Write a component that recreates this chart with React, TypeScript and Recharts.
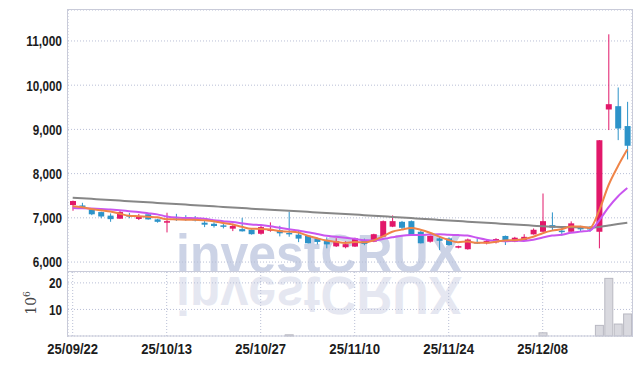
import React from "react";
import { ComposedChart, BarChart, Bar, Line, XAxis, YAxis, CartesianGrid } from "recharts";

const dates = [
  "25/09/22", "25/09/23", "25/09/24", "25/09/25", "25/09/26", "25/09/29", "25/09/30", "25/10/01", "25/10/02", "25/10/10",
  "25/10/13", "25/10/14", "25/10/15", "25/10/16", "25/10/17", "25/10/20", "25/10/21", "25/10/22", "25/10/23", "25/10/24",
  "25/10/27", "25/10/28", "25/10/29", "25/10/30", "25/10/31", "25/11/03", "25/11/04", "25/11/05", "25/11/06", "25/11/07",
  "25/11/10", "25/11/11", "25/11/12", "25/11/13", "25/11/14", "25/11/17", "25/11/18", "25/11/19", "25/11/20", "25/11/21",
  "25/11/24", "25/11/25", "25/11/26", "25/11/27", "25/11/28", "25/12/01", "25/12/02", "25/12/03", "25/12/04", "25/12/05",
  "25/12/08", "25/12/09", "25/12/10", "25/12/11", "25/12/12", "25/12/15", "25/12/16", "25/12/17", "25/12/18", "25/12/19",
];
const tickDates = ["25/09/22", "25/10/13", "25/10/27", "25/11/10", "25/11/24", "25/12/08"];

const opens = [
  7290, 7280, 7190, 7130, 7050, 6980, 7060, 6975, 7080, 6965,
  6890, 7020, 7000, 6975, 6890, 6865, 6830, 6755, 6745, 6730,
  6640, 6720, 6720, 6660, 6620, 6595, 6535, 6475, 6355, 6335,
  6350, 6495, 6460, 6575, 6800, 6910, 6925, 6685, 6460, 6535,
  6535, 6325, 6290, 6450, 6425, 6445, 6590, 6460, 6500, 6626,
  6685, 6835, 6710, 6685, 6800, 6770, 6685, 9450, 9525, 9075,
];
const highs = [
  7390, 7340, 7200, 7140, 7100, 7170, 7110, 7090, 7080, 6980,
  7115, 7090, 7060, 7040, 6950, 6900, 6870, 6870, 7000, 6740,
  6845, 6897, 6820, 7137, 6700, 6600, 6550, 6560, 6540, 6470,
  6550, 6530, 6640, 6940, 7055, 6930, 6940, 6700, 6600, 6570,
  6560, 6370, 6530, 6520, 6510, 6540, 6600, 6570, 6630, 6760,
  7550, 7123, 6784, 6920, 6820, 6810, 8760, 11150, 9948, 9623,
];
const lows = [
  7160, 7210, 7060, 6990, 6910, 6980, 6990, 6950, 6960, 6890,
  6670, 6930, 6930, 6920, 6790, 6780, 6760, 6700, 6690, 6620,
  6620, 6685, 6580, 6572, 6450, 6420, 6400, 6310, 6340, 6310,
  6340, 6380, 6450, 6570, 6790, 6740, 6600, 6420, 6440, 6270,
  6370, 6310, 6280, 6410, 6400, 6420, 6385, 6450, 6490, 6620,
  6680, 6723, 6595, 6680, 6700, 6680, 6310, 8985, 8757, 8321,
];
const closes = [
  7380, 7260, 7080, 7030, 6970, 7130, 7030, 7020, 6965, 6910,
  6925, 7000, 6990, 6960, 6845, 6815, 6815, 6815, 6695, 6630,
  6790, 6740, 6650, 6630, 6530, 6425, 6455, 6400, 6475, 6405,
  6535, 6410, 6630, 6925, 6925, 6775, 6605, 6425, 6590, 6480,
  6385, 6360, 6510, 6440, 6475, 6520, 6490, 6550, 6570, 6730,
  6925, 6780, 6700, 6875, 6740, 6745, 8755, 9570, 9020, 8630,
];
// volume, millions of shares
const volumes = [
  0.12, 0.1, 0.1, 0.08, 0.08, 0.1, 0.08, 0.08, 0.08, 0.08,
  0.2, 0.1, 0.08, 0.08, 0.1, 0.08, 0.08, 0.1, 0.15, 0.1,
  0.12, 0.1, 0.1, 0.45, 0.1, 0.1, 0.08, 0.1, 0.08, 0.08,
  0.1, 0.08, 0.12, 0.18, 0.15, 0.1, 0.12, 0.12, 0.08, 0.1,
  0.1, 0.06, 0.1, 0.06, 0.06, 0.08, 0.08, 0.08, 0.1, 0.15,
  1.2, 0.2, 0.12, 0.18, 0.1, 0.1, 4.0, 21.7, 4.5, 8.3,
];
const ma5 = [
  7262, 7240, 7200, 7170, 7144, 7094, 7048, 7036, 7023, 7011,
  6970, 6964, 6958, 6957, 6944, 6922, 6885, 6850, 6797, 6754,
  6749, 6734, 6701, 6688, 6668, 6595, 6538, 6488, 6457, 6432,
  6454, 6445, 6491, 6581, 6685, 6733, 6772, 6731, 6664, 6575,
  6497, 6448, 6465, 6435, 6434, 6461, 6487, 6495, 6521, 6572,
  6653, 6711, 6741, 6802, 6804, 6768, 7163, 7737, 8166, 8544,
];
const ma10 = [
  7222, 7216, 7210, 7200, 7186, 7170, 7150, 7130, 7105, 7078,
  7032, 7006, 6997, 6990, 6978, 6946, 6925, 6904, 6877, 6849,
  6836, 6810, 6776, 6743, 6711, 6672, 6636, 6595, 6573, 6550,
  6525, 6492, 6490, 6519, 6559, 6594, 6609, 6611, 6623, 6630,
  6615, 6610, 6598, 6550, 6505, 6479, 6468, 6480, 6478, 6503,
  6557, 6599, 6618, 6662, 6688, 6711, 6937, 7239, 7484, 7674,
];
const ma60 = [
  7455, 7442, 7429, 7416, 7403, 7390, 7377, 7364, 7351, 7338,
  7325, 7312, 7299, 7286, 7273, 7260, 7247, 7234, 7221, 7208,
  7195, 7183, 7171, 7159, 7147, 7135, 7123, 7111, 7099, 7087,
  7075, 7061, 7048, 7034, 7021, 7007, 6994, 6980, 6967, 6953,
  6940, 6927, 6914, 6901, 6888, 6875, 6862, 6849, 6836, 6823,
  6810, 6800, 6793, 6788, 6784, 6782, 6795, 6828, 6860, 6890,
];

const RED = "#e2186a";
const BLUE = "#2c93c9";
const AXIS = "#c9cbd9";
const GRID = "#b9bfd6";
const FONT = "'Liberation Sans', Arial, sans-serif";

const data = dates.map((date, i) => ({
  date,
  open: opens[i],
  high: highs[i],
  low: lows[i],
  close: closes[i],
  range: [lows[i], highs[i]],
  vol: volumes[i],
  ma5: ma5[i],
  ma10: ma10[i],
  ma60: ma60[i],
}));

// rough advance widths of Liberation Sans Bold, used to squeeze labels into a condensed look
const textWidth = (s: string, size: number) =>
  s.split("").reduce((w, ch) => w + (/[0-9]/.test(ch) ? 0.556 : 0.278), 0) * size;

const YTick = (props: any) => {
  const { x, y, payload } = props;
  const label = Number(payload.value).toLocaleString("en-US");
  return (
    <text
      x={x}
      y={y}
      dy="0.36em"
      textAnchor="end"
      fontFamily={FONT}
      fontWeight={700}
      fontSize={15}
      fill="#1c1c1c"
      textLength={textWidth(label, 15) * 0.78}
      lengthAdjust="spacingAndGlyphs"
    >
      {label}
    </text>
  );
};

const XTick = (props: any) => {
  const { x, y, payload } = props;
  const label = String(payload.value);
  return (
    <text
      x={x}
      y={y}
      dy="0.72em"
      textAnchor="middle"
      fontFamily={FONT}
      fontWeight={700}
      fontSize={15}
      fill="#1c1c1c"
      textLength={textWidth(label, 15) * 0.87}
      lengthAdjust="spacingAndGlyphs"
    >
      {label}
    </text>
  );
};

const Candle = (props: any) => {
  const { x, y, width, height, payload } = props;
  const { open, close, high, low } = payload;
  const color = close >= open ? RED : BLUE;
  const top = Math.min(y, y + height);
  const h = Math.abs(height);
  const k = h / (high - low);
  const bodyTop = top + (high - Math.max(open, close)) * k;
  const bodyH = Math.max(Math.abs(close - open) * k, 1.5);
  const cx = x + width / 2;
  return (
    <g>
      <line x1={cx} x2={cx} y1={top} y2={top + h} stroke={color} strokeWidth={1} />
      <rect x={x} y={bodyTop} width={width} height={bodyH} fill={color} />
    </g>
  );
};

const VolBar = (props: any) => {
  const { x, y, width, height } = props;
  const h = Math.abs(height);
  if (h < 0.6) return <g />;
  return <rect x={x} y={Math.min(y, y + height)} width={width} height={h} fill="#d9d9df" stroke="#b9b9c2" strokeWidth={1} />;
};

const VolLabel = () => (
  <text
    x={36}
    y={303}
    transform="rotate(-90 36 303)"
    textAnchor="middle"
    fontFamily="'DejaVu Serif', serif"
    fontSize={14}
    fill="#444"
  >
    10<tspan dy={-6} fontSize={9}>6</tspan>
  </text>
);

export default function App() {
  return (
    <div style={{ position: "absolute", left: 0, top: 0, width: 642, height: 366, background: "#fff" }}>
      <svg width={642} height={366} style={{ position: "absolute", left: 0, top: 0 }}>
        <text
          x={176}
          y={272}
          textLength={286}
          lengthAdjust="spacingAndGlyphs"
          fontFamily={FONT}
          fontWeight={700}
          fontSize={54}
          fill="#ccd3e6"
        >
          investCRUX
        </text>
        <g transform="translate(0 549) scale(1 -1)">
          <text
            x={176}
            y={272}
            textLength={286}
            lengthAdjust="spacingAndGlyphs"
            fontFamily={FONT}
            fontWeight={700}
            fontSize={54}
            fill="#e5e7f1"
          >
            investCRUX
          </text>
        </g>
        <VolLabel />
      </svg>

      <div style={{ position: "absolute", left: 0, top: 0 }}>
        <ComposedChart width={642} height={272} data={data} margin={{ top: 10, right: 10, bottom: 0, left: 0 }}>
          <CartesianGrid stroke={GRID} strokeDasharray="1 2" />
          <XAxis dataKey="date" ticks={tickDates} interval={0} height={0} tick={false} axisLine={false} tickLine={false} />
          <YAxis
            type="number"
            domain={[5775, 11700]}
            ticks={[6000, 7000, 8000, 9000, 10000, 11000]}
            width={68}
            tick={<YTick />}
            tickLine={false}
            tickSize={5}
            tickMargin={1}
            axisLine={false}
            allowDataOverflow
          />
          <Line type="monotone" dataKey="ma60" stroke="#878787" strokeWidth={2} dot={false} isAnimationActive={false} />
          <Line type="monotone" dataKey="ma10" stroke="#c955ef" strokeWidth={2} dot={false} isAnimationActive={false} />
          <Line type="monotone" dataKey="ma5" stroke="#ef8448" strokeWidth={2} dot={false} isAnimationActive={false} />
          <Bar dataKey="range" barSize={6} shape={<Candle />} isAnimationActive={false} />
        </ComposedChart>
      </div>

      <div style={{ position: "absolute", left: 0, top: 272 }}>
        <BarChart width={642} height={94} data={data} margin={{ top: 0, right: 10, bottom: 0, left: 0 }} barSize={8}>
          <CartesianGrid stroke={GRID} strokeDasharray="1 2" />
          <XAxis
            dataKey="date"
            ticks={tickDates}
            interval={0}
            height={30}
            tick={<XTick />}
            tickLine={false}
            tickSize={5}
            tickMargin={2}
            axisLine={{ stroke: AXIS }}
          />
          <YAxis
            type="number"
            domain={[0, 24.1]}
            ticks={[10, 20]}
            width={68}
            tick={<YTick />}
            tickLine={false}
            tickSize={5}
            tickMargin={1}
            axisLine={false}
          />
          <Bar dataKey="vol" shape={<VolBar />} isAnimationActive={false} />
        </BarChart>
      </div>

      {/* frame around both panels */}
      <div
        style={{
          position: "absolute",
          left: 67,
          top: 9,
          width: 564,
          height: 327,
          border: `1px solid ${AXIS}`,
          borderBottom: "none",
          pointerEvents: "none",
        }}
      />
      <div style={{ position: "absolute", left: 68, top: 271, width: 564, height: 1, background: AXIS }} />
    </div>
  );
}
